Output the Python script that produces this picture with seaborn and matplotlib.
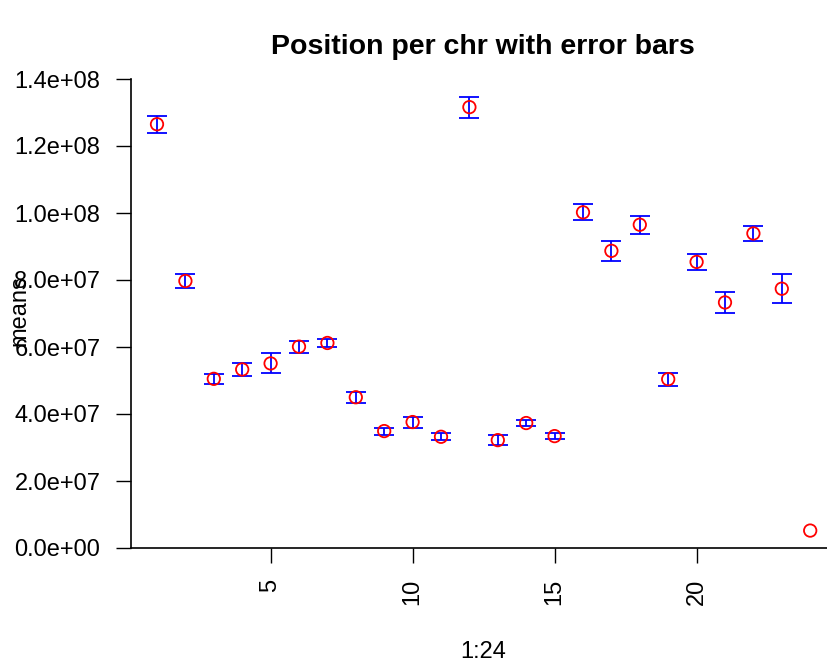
import numpy as np
import pandas as pd
import matplotlib
matplotlib.use("Agg")
import matplotlib.pyplot as plt
import seaborn as sns

chrom = list(range(1, 25))
means = [1.265e8, 7.97e7, 5.05e7, 5.33e7, 5.51e7, 6.01e7, 6.12e7, 4.50e7,
         3.49e7, 3.76e7, 3.32e7, 1.316e8, 3.22e7, 3.73e7, 3.34e7, 1.002e8,
         8.87e7, 9.65e7, 5.04e7, 8.54e7, 7.33e7, 9.39e7, 7.74e7, 5.2e6]
errs = [2.5e6, 2.13e6, 1.43e6, 2.0e6, 2.99e6, 1.79e6, 1.19e6, 1.6e6,
        1.04e6, 1.64e6, 1.0e6, 3.13e6, 1.55e6, 0.94e6, 0.85e6, 2.39e6,
        2.99e6, 2.63e6, 1.9e6, 2.39e6, 3.03e6, 2.28e6, 4.37e6, np.nan]
title = "Position per chr with error bars"
xlabel = "1:24"
ylabel = "means"
yticks = [0, 2e7, 4e7, 6e7, 8e7, 1e8, 1.2e8, 1.4e8]
xticks = [5, 10, 15, 20]

df = pd.DataFrame({"x": chrom, "means": means, "err": errs})

sns.set_style("white")
plt.rcParams["font.family"] = ["Liberation Sans", "DejaVu Sans"]

W, H = 827, 666
fig = plt.figure(figsize=(W / 100, H / 100), dpi=100)
left_px, right_px, top_px, bot_px = 131, 827, 79, 548
ax = fig.add_axes([left_px / W, 1 - bot_px / H, (right_px - left_px) / W, (bot_px - top_px) / H])

ax.errorbar(df["x"], df["means"], yerr=df["err"], fmt="none", ecolor="#0000ff",
            elinewidth=1.3, capsize=7, capthick=1.3, clip_on=False, zorder=2)
sns.scatterplot(data=df, x="x", y="means", ax=ax, marker="o", s=80,
                facecolor="none", edgecolor="#ff0000", linewidth=1.3,
                clip_on=False, zorder=3, legend=False)

# x-scale: x=1 at px 157, 28.4 px/unit
x_left = 1 + (left_px - 157) / 28.4
x_right = 1 + (right_px - 157) / 28.4
ax.set_xlim(x_left, x_right)
ax.set_ylim(0, 1.4e8)
ax.set_xticks(xticks)
ax.set_xticklabels([str(t) for t in xticks], rotation=90, fontsize=17)
ax.set_yticks(yticks)
ax.set_yticklabels(["%.1e" % t for t in yticks], fontsize=17)
ax.tick_params(axis="both", direction="out", length=11, width=1, pad=11,
               bottom=True, left=True, colors="black")
for s in ["top", "right"]:
    ax.spines[s].set_visible(False)
for s in ["left", "bottom"]:
    ax.spines[s].set_color("black")
    ax.spines[s].set_linewidth(1.2)
ax.set_xlabel("")
ax.set_ylabel("")
ax.grid(False)

fig.text(483 / W, 1 - 47 / H, title, ha="center", va="center", fontsize=20.5,
         fontweight="bold", color="black")
fig.text(483 / W, 1 - 652 / H, xlabel, ha="center", va="center", fontsize=17, color="black")
fig.text(19 / W, 1 - 311 / H, ylabel, ha="center", va="center", rotation=90,
         fontsize=17, color="black")

fig.savefig("out.png", dpi=100, facecolor="white")
